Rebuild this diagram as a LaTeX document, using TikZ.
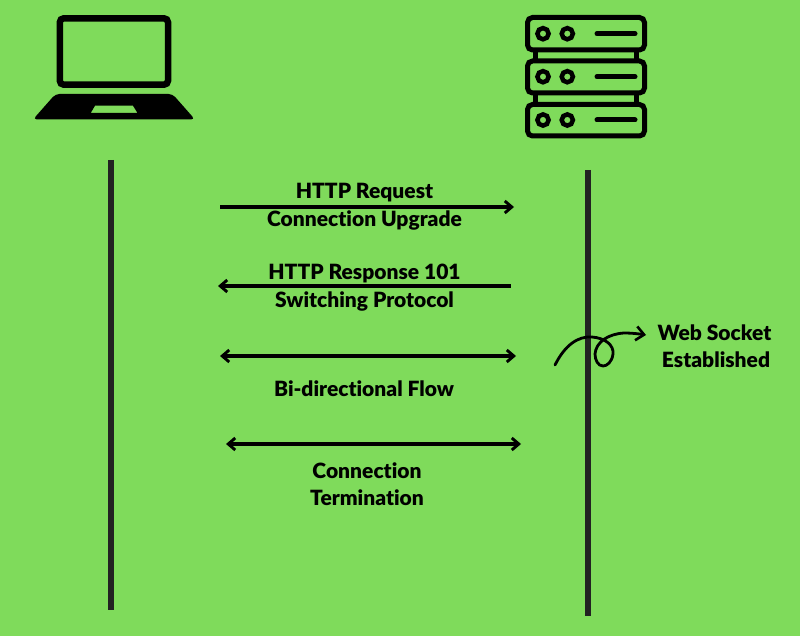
\documentclass[tikz,border=0pt]{standalone}
\usepackage{fontspec}
\setmainfont[Ligatures=NoCommon,BoldFont={Lato Black}]{Lato}
\usetikzlibrary{arrows.meta}
\definecolor{bgreen}{HTML}{7FDB5B}
\definecolor{lifeline}{HTML}{222222}
\tikzset{
  lbl/.style={font=\bfseries\fontsize{21}{24}\selectfont,text=black,inner sep=0pt,anchor=center},
  msg/.style={line width=3.1pt,draw=black},
  tipR/.style={-{Straight Barb[length=7pt,width=12pt,line width=2.9pt]}},
  tipL/.style={{Straight Barb[length=7pt,width=12pt,line width=2.9pt]}-},
  tipB/.style={{Straight Barb[length=7pt,width=12pt,line width=2.9pt]}-{Straight Barb[length=7pt,width=12pt,line width=2.9pt]}},
  life/.style={draw=lifeline},
  rack/.style={draw=black,line width=5pt,rounded corners=5pt},
  led/.style={draw=black,line width=4.5pt},
  slot/.style={draw=black,line width=5pt,line cap=round},
  post/.style={draw=black,line width=4.5pt}
}
\begin{document}
\begin{tikzpicture}[x=1pt,y=-1pt]
\fill[bgreen] (0,0) rectangle (800,636);
\useasboundingbox (0,0) rectangle (800,636);
% laptop
\draw[line width=6.5pt,rounded corners=4pt] (59.8,18.3) rectangle (168,84.7);
\fill[black,even odd rule]
  [rounded corners=4pt] (55.5,94) -- (172.5,94) -- (195,119.5) -- (33,119.5) -- cycle
  [rounded corners=0pt] (95,105.7) -- (133,105.7) -- (137.5,113) -- (90.7,113) -- cycle;
% server
\foreach \a/\b in {17.5/50,61/93,104.5/136}{
  \draw[rack] (527.5,\a) rectangle (644.5,\b);
}
\foreach \a/\b in {52/59,95/102}{
  \draw[post] (535.5,\a) -- (535.5,\b);
  \draw[post] (636.5,\a) -- (636.5,\b);
}
\foreach \y in {33.7,76.7,120}{
  \draw[led] (543,\y) circle (5.6);
  \draw[led] (567.3,\y) circle (5.6);
  \draw[slot] (597,\y) -- (635,\y);
}
% lifelines
\coordinate (ltop) at (111,160); \coordinate (lbot) at (111,610);
\coordinate (rtop) at (588,170); \coordinate (rbot) at (588,616);
\draw[life,line width=5.5pt] (ltop) -- (lbot);
\draw[life,line width=6pt] (rtop) -- (rbot);
% messages
\coordinate (a1) at (220,207); \coordinate (b1) at (514,207);
\coordinate (a2) at (218,286); \coordinate (b2) at (511,286);
\coordinate (a3) at (220,356); \coordinate (b3) at (516,356);
\coordinate (a4) at (226,444); \coordinate (b4) at (521,444);
\draw[msg,tipR] (a1) -- (b1);
\draw[msg,tipL] (a2) -- (b2);
\draw[msg,tipB] (a3) -- (b3);
\draw[msg,tipB] (a4) -- (b4);
\node[lbl] (t1) at (364.5,192.5) {HTTP Request};
\node[lbl] (t2) at (364.5,220.5) {Connection Upgrade};
\node[lbl] (t3) at (364.5,273.5) {HTTP Response 101};
\node[lbl] (t4) at (364.5,301.5) {Switching Protocol};
\node[lbl] (t5) at (364,388.5) {Bi-directional Flow};
\node[lbl] (t6) at (367,470.5) {Connection};
\node[lbl] (t7) at (367,497.5) {Termination};
\node[lbl] (t8) at (714.5,332.5) {Web Socket};
\node[lbl] (t9) at (716,359.5) {Established};
% curly arrow
\coordinate (cs) at (555,365); \coordinate (ce) at (646,335);
\draw[line width=2.8pt,line cap=round,-{Straight Barb[length=8pt,width=14pt,line width=2.6pt]}]
  (cs) .. controls (565,345) and (578,336) .. (592,337)
  .. controls (605,338) and (614,345) .. (613,354)
  .. controls (612,362) and (607,366) .. (603,366)
  .. controls (598,366) and (595,360) .. (595,354)
  .. controls (596,342) and (608,334) .. (624,333)
  .. controls (632,333) and (640,334) .. (ce);
\end{tikzpicture}
\end{document}
